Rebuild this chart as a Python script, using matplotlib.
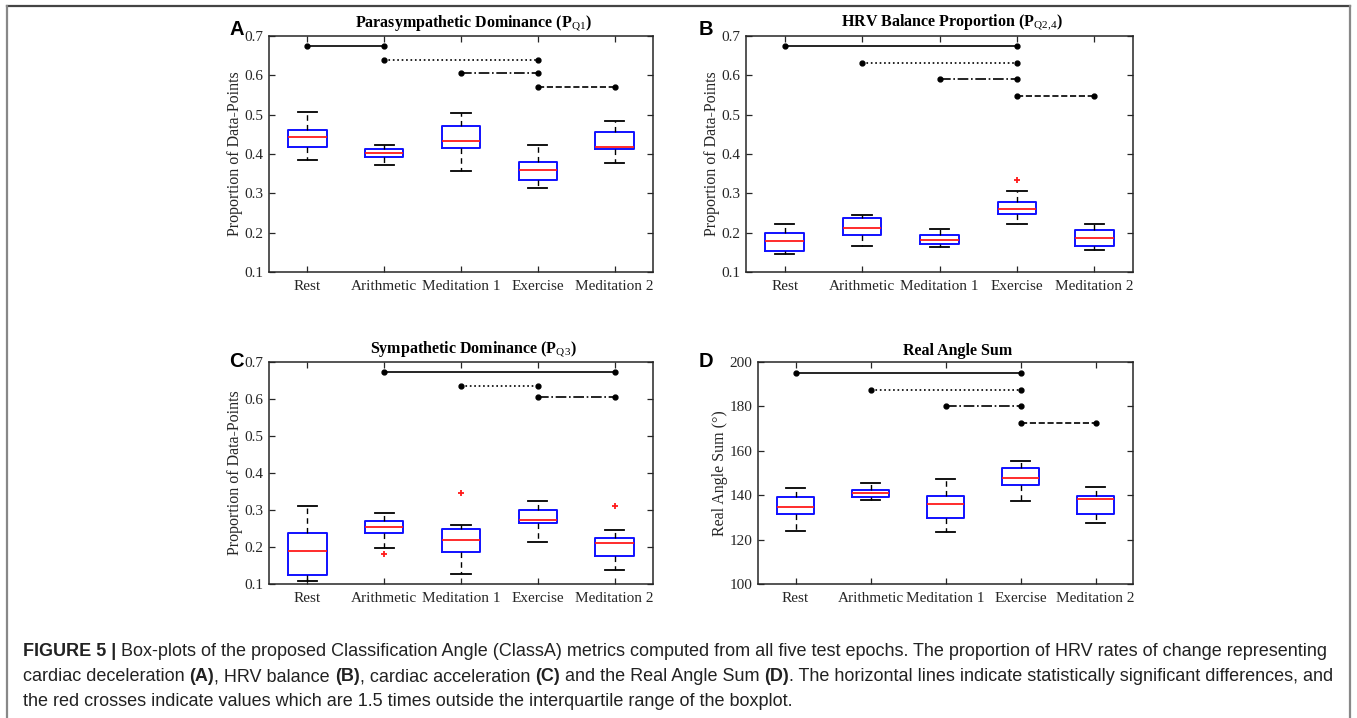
import matplotlib
matplotlib.use('Agg')
import matplotlib.pyplot as plt
from matplotlib.lines import Line2D
from matplotlib.transforms import blended_transform_factory

plt.rcParams['font.family'] = 'Liberation Serif'
plt.rcParams['mathtext.fontset'] = 'custom'
plt.rcParams['mathtext.rm'] = 'Liberation Serif'
plt.rcParams['mathtext.bf'] = 'Liberation Serif:bold'

categorias = ['Rest', 'Arithmetic', 'Meditation 1', 'Exercise', 'Meditation 2']

# Painel A - Parasympathetic Dominance
A_hi  = [0.507, 0.423, 0.505, 0.423, 0.484]
A_q3  = [0.462, 0.412, 0.471, 0.379, 0.456]
A_med = [0.444, 0.403, 0.434, 0.360, 0.418]
A_q1  = [0.417, 0.393, 0.416, 0.333, 0.413]
A_lo  = [0.385, 0.371, 0.357, 0.314, 0.378]
A_out = [[], [], [], [], []]
A_sig = [(1, 2, 0.675, '-'), (2, 4, 0.640, ':'), (3, 4, 0.605, '-.'), (4, 5, 0.570, '--')]

# Painel B - HRV Balance Proportion
B_hi  = [0.222, 0.246, 0.209, 0.306, 0.221]
B_q3  = [0.200, 0.237, 0.193, 0.277, 0.206]
B_med = [0.180, 0.212, 0.182, 0.261, 0.187]
B_q1  = [0.153, 0.195, 0.170, 0.247, 0.166]
B_lo  = [0.147, 0.165, 0.163, 0.223, 0.157]
B_out = [[], [], [], [0.333], []]
B_sig = [(1, 4, 0.675, '-'), (2, 4, 0.632, ':'), (3, 4, 0.590, '-.'), (4, 5, 0.548, '--')]

# Painel C - Sympathetic Dominance
C_hi  = [0.311, 0.292, 0.259, 0.324, 0.246]
C_q3  = [0.239, 0.269, 0.249, 0.300, 0.223]
C_med = [0.188, 0.255, 0.219, 0.272, 0.212]
C_q1  = [0.123, 0.239, 0.187, 0.266, 0.177]
C_lo  = [0.107, 0.198, 0.126, 0.214, 0.138]
C_out = [[], [0.182], [0.347], [], [0.311]]
C_sig = [(2, 5, 0.674, '-'), (3, 4, 0.635, ':'), (4, 5, 0.605, '-.')]

# Painel D - Real Angle Sum
D_hi  = [143.3, 145.7, 147.2, 155.3, 143.9]
D_q3  = [139.3, 142.4, 139.6, 152.3, 139.7]
D_med = [134.6, 140.9, 136.1, 147.8, 138.4]
D_q1  = [131.5, 139.0, 129.8, 144.4, 131.5]
D_lo  = [123.8, 137.9, 123.5, 137.3, 127.4]
D_out = [[], [], [], [], []]
D_sig = [(1, 4, 195.0, '-'), (2, 4, 187.5, ':'), (3, 4, 180.0, '-.'), (4, 5, 172.5, '--')]

W, H = 1357, 718
fig = plt.figure(figsize=(W / 100, H / 100), dpi=100)

def px_axes(x0, y0, x1, y1):
    return fig.add_axes([x0 / W, 1 - y1 / H, (x1 - x0) / W, (y1 - y0) / H])

def painel(ax, hi, q3, med, q1, lo, out, sig, ylim, yticks, ylabel, titulo, letra, lx, ly, ylab_x):
    stats = []
    for i in range(len(categorias)):
        stats.append({'med': med[i], 'q1': q1[i], 'q3': q3[i],
                      'whislo': lo[i], 'whishi': hi[i], 'fliers': out[i]})
    ax.bxp(stats, positions=range(1, 6), widths=0.5, capwidths=0.25,
           boxprops=dict(color='#1010ff', linewidth=1.4),
           medianprops=dict(color='#ff1a1a', linewidth=1.3),
           whiskerprops=dict(color='black', linewidth=1.0, linestyle=(0, (4, 3))),
           capprops=dict(color='black', linewidth=1.3),
           flierprops=dict(marker='+', markeredgecolor='#ff1a1a', markersize=5, markeredgewidth=1.3))
    for x1, x2, y, ls in sig:
        ax.plot([x1, x2], [y, y], color='black', linestyle=ls, linewidth=1.2,
                marker='o', markersize=3.5)
    ax.set_xlim(0.5, 5.5)
    ax.set_ylim(*ylim)
    ax.set_yticks(yticks)
    ax.set_xticks(range(1, 6))
    ax.set_xticklabels(categorias)
    ax.tick_params(direction='in', top=True, right=True, length=4, width=0.9,
                   labelsize=11, colors='#262626')
    ax.tick_params(axis='x', pad=6)
    ax.tick_params(axis='y', pad=4)
    for s in ax.spines.values():
        s.set_linewidth(1.1)
        s.set_color('#262626')
    ax.set_ylabel(ylabel, fontsize=11.5, color='#262626')
    ax.yaxis.set_label_coords(ylab_x / W, 0.5,
                              transform=blended_transform_factory(fig.transFigure, ax.transAxes))
    ax.text(0.532, 1.012, titulo, transform=ax.transAxes, ha='center', va='bottom',
            fontsize=11.5, fontweight='bold', color='black')
    fig.text(lx / W, 1 - ly / H, letra, fontsize=14.5, fontweight='bold',
             family='Liberation Sans', va='baseline')

axA = px_axes(269, 36, 653, 272)
axB = px_axes(746, 36, 1133, 272)
axC = px_axes(269, 362, 653, 584)
axD = px_axes(758, 362, 1133, 584)

prop_ticks = [0.1, 0.2, 0.3, 0.4, 0.5, 0.6, 0.7]
painel(axA, A_hi, A_q3, A_med, A_q1, A_lo, A_out, A_sig, (0.1, 0.7), prop_ticks,
       'Proportion of Data-Points', r'Parasympathetic Dominance (P$_{\mathrm{Q1}}$)', 'A', 229, 35, 243)
painel(axB, B_hi, B_q3, B_med, B_q1, B_lo, B_out, B_sig, (0.1, 0.7), prop_ticks,
       'Proportion of Data-Points', r'HRV Balance Proportion (P$_{\mathrm{Q2{,}4}}$)', 'B', 699, 35, 720)
painel(axC, C_hi, C_q3, C_med, C_q1, C_lo, C_out, C_sig, (0.1, 0.7), prop_ticks,
       'Proportion of Data-Points', r'Sympathetic Dominance (P$_{\mathrm{Q3}}$)', 'C', 229, 367, 243)
painel(axD, D_hi, D_q3, D_med, D_q1, D_lo, D_out, D_sig, (100, 200), [100, 120, 140, 160, 180, 200],
       'Real Angle Sum (°)', 'Real Angle Sum', 'D', 699, 367, 728)

# moldura da figura
for xs, ys, cor in [((7, 1350), (6, 6), '#444444'), ((7, 7), (6, 718), '#888888'),
                    ((1350, 1350), (6, 718), '#888888')]:
    fig.add_artist(Line2D([x / W for x in xs], [1 - y / H for y in ys],
                          color=cor, linewidth=1.6, transform=fig.transFigure))

# legenda da figura (texto com partes em negrito)
legenda = [
    [('FIGURE 5 | ', True), ('Box-plots of the proposed Classification Angle (ClassA) metrics computed from all five test epochs. '
                             'The proportion of HRV rates of change representing', False)],
    [('cardiac deceleration ', False), ('(A)', True), (', HRV balance ', False), ('(B)', True),
     (', cardiac acceleration ', False), ('(C)', True), (' and the Real Angle Sum ', False), ('(D)', True),
     ('. The horizontal lines indicate statistically significant differences, and', False)],
    [('the red crosses indicate values which are 1.5 times outside the interquartile range of the boxplot.', False)],
]
renderer = fig.canvas.get_renderer()
for k, linha in enumerate(legenda):
    x = 23
    y = 656 + 25 * k
    for txt, negrito in linha:
        t = fig.text(x / W, 1 - y / H, txt, fontsize=13, family='Liberation Sans',
                     fontweight='bold' if negrito else 'normal', color='#222222', va='baseline')
        x += t.get_window_extent(renderer).width

fig.savefig('out.png', dpi=100)
